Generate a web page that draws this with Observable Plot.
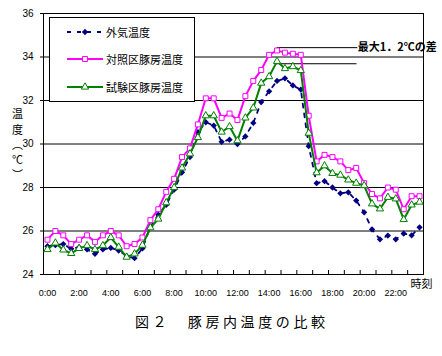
<!DOCTYPE html>
<html>
<head>
<meta charset="utf-8">
<script src="https://cdn.jsdelivr.net/npm/d3@7"></script>
<script src="https://cdn.jsdelivr.net/npm/@observablehq/plot@0.6"></script>
<style>
  body { margin: 0; background: #fff; }
  #wrap { position: relative; width: 442px; height: 356px; overflow: hidden; background: #fff; }
  #legend { position: absolute; left: 49px; top: 17px; width: 146px; height: 85px; box-sizing: border-box;
            border: 1px solid #000; background: #fff; }
  .lrow { position: absolute; left: 0; height: 16px; width: 144px; }
  .lrow svg { position: absolute; left: 17px; top: 2px; }
  .lrow span { position: absolute; left: 56px; top: 0; line-height: 16px; font-size: 11px;
               font-family: "Noto Sans CJK JP", sans-serif; color: #000; white-space: nowrap; }
  #caption { position: absolute; left: 135px; top: 313px; font-size: 14px; line-height: 16px;
             font-family: "Noto Sans CJK JP", sans-serif; letter-spacing: 3.6px; white-space: pre; color: #000; }
</style>
</head>
<body>
<div id="wrap"></div>
<script>
// ---- data ----
const times = ["0:00","0:30","1:00","1:30","2:00","2:30","3:00","3:30","4:00","4:30","5:00","5:30",
  "6:00","6:30","7:00","7:30","8:00","8:30","9:00","9:30","10:00","10:30","11:00","11:30",
  "12:00","12:30","13:00","13:30","14:00","14:30","15:00","15:30","16:00","16:30","17:00","17:30",
  "18:00","18:30","19:00","19:30","20:00","20:30","21:00","21:30","22:00","22:30","23:00","23:30"];
const outside = [25.3,25.35,25.4,25.18,25.25,25.15,24.95,25.15,25.22,25.1,
  24.85,24.75,25.2,26.2,26.75,27.2,27.9,28.7,29.4,30.55,
  31.0,30.85,30.1,30.2,30.0,30.35,30.97,31.93,32.42,32.9,
  33.02,32.69,32.5,29.9,28.2,28.29,28.0,27.73,27.78,27.4,
  26.86,26.07,25.62,25.79,25.62,25.88,25.8,26.17];
const control = [25.6,26.0,25.8,25.4,25.6,25.8,25.5,25.8,26.0,25.8,
  25.3,25.4,25.7,26.5,27.0,27.8,28.4,29.4,29.8,30.9,
  32.1,32.1,31.2,31.4,31.1,32.2,32.9,33.4,34.1,34.3,
  34.2,34.15,34.1,31.3,29.2,29.5,29.4,29.2,28.8,28.9,
  28.2,27.7,27.5,28.0,27.9,27.0,27.6,27.6];
const trial = [25.15,25.45,25.13,24.97,25.2,25.33,25.15,25.33,25.7,25.26,
  24.8,24.95,25.35,26.15,26.55,27.3,28.0,28.9,29.55,30.3,
  31.3,31.3,30.55,30.8,30.15,31.2,31.66,32.8,33.1,33.8,
  33.47,33.56,33.38,30.5,28.68,29.0,28.65,28.57,28.35,28.2,
  28.09,27.25,27.02,27.55,27.48,26.53,27.2,27.33];
const seriesNames = ["外気温度", "対照区豚房温度", "試験区豚房温度"];
const seriesColors = ["#000080", "#FF00FF", "#008000"];
const yTicks = [24, 26, 28, 30, 32, 34, 36];
const xTickLabels = ["0:00","2:00","4:00","6:00","8:00","10:00","12:00","14:00","16:00","18:00","20:00","22:00"];
const yTitle = "温\n度\n︵\n℃\n︶";
const xTitle = "時刻";
const caption = "図２　豚房内温度の比較";
const noteText = "最大1．2℃の差";
const noteY = [34.43, 33.69];
const noteX1 = [14.52, 14.4];
const noteX2 = [19.6, 19.55];

// ---- derived tables ----
const toHour = t => { const [h, m] = t.split(":"); return +h + (+m) / 60; };
const hours = times.map(toHour);
const rows = vals => hours.map((h, i) => ({h, v: vals[i]}));
const outRows = rows(outside), ctlRows = rows(control), triRows = rows(trial);
const labelHours = xTickLabels.map(toHour);
const labelMap = new Map(labelHours.map((h, i) => [h, xTickLabels[i]]));
const tickHours = hours.filter(h => Number.isInteger(h)).map(h => h - 0.25);
const noteRows = noteY.map((y, i) => ({y, x1: noteX1[i], x2: noteX2[i]}));
const CJK = "Noto Sans CJK JP";

const chart = Plot.plot({
  width: 442, height: 300,
  marginLeft: 43, marginRight: 19, marginTop: 13, marginBottom: 26,
  x: {domain: [-0.25, 23.75]},
  y: {domain: [24, 36]},
  style: {fontFamily: "'Liberation Sans', Arial, sans-serif", fontSize: "10px", color: "#000", background: "#fff", overflow: "visible"},
  marks: [
    Plot.gridY(yTicks.slice(1, -1), {stroke: "#000", strokeOpacity: 1}),
    Plot.frame({stroke: "#000"}),
    Plot.axisY(yTicks, {tickSize: 3, tickPadding: 7, label: null, fontSize: 10}),
    Plot.axisX(labelHours, {tickSize: 0, tickPadding: 15, label: null, fontSize: 9, tickFormat: d => labelMap.get(d)}),
    Plot.tickX(tickHours, {x: d => d, stroke: "#000", insetTop: 257}),
    Plot.ruleY(noteRows, {y: "y", x1: "x1", x2: "x2", stroke: "#000", strokeWidth: 1}),
    Plot.line(outRows, {x: "h", y: "v", stroke: seriesColors[0], strokeWidth: 1.8, strokeDasharray: "4,6"}),
    Plot.dot(outRows, {x: "h", y: "v", symbol: "square", rotate: 45, r: 2.5, fill: seriesColors[0], stroke: "none"}),
    Plot.line(ctlRows, {x: "h", y: "v", stroke: seriesColors[1], strokeWidth: 2}),
    Plot.dot(ctlRows, {x: "h", y: "v", symbol: "square", r: 2.8, fill: "#fff", stroke: seriesColors[1], strokeWidth: 1}),
    Plot.line(triRows, {x: "h", y: "v", stroke: seriesColors[2], strokeWidth: 2}),
    Plot.dot(triRows, {x: "h", y: "v", symbol: "triangle", r: 2.7, fill: "#fff", stroke: seriesColors[2], strokeWidth: 1}),
    Plot.text([{x: noteX2[0], y: noteY[0], t: noteText}], {x: "x", y: "y", text: "t", textAnchor: "start", fontWeight: "bold", fontSize: 11, fontFamily: CJK}),
    Plot.text([yTitle], {text: d => d, frameAnchor: "left", dx: -26, lineHeight: 1.39, fontSize: 11, fontFamily: CJK, textAnchor: "middle"}),
    Plot.text([xTitle], {text: d => d, frameAnchor: "bottom-right", dx: 9, dy: 13, textAnchor: "end", fontSize: 11, fontFamily: CJK})
  ]
});

const wrap = document.getElementById("wrap");
wrap.appendChild(chart);

// legend
const legend = document.createElement("div");
legend.id = "legend";
const rowCenters = [14, 41, 69];
seriesNames.forEach((name, i) => {
  const row = document.createElement("div");
  row.className = "lrow";
  row.style.top = (rowCenters[i] - 8) + "px";
  const svg = d3.create("svg").attr("width", 38).attr("height", 12);
  const line = svg.append("line").attr("x1", 0).attr("x2", 36).attr("y1", 6).attr("y2", 6)
    .attr("stroke", seriesColors[i]).attr("stroke-width", 2);
  if (i === 0) line.attr("stroke-dasharray", "4,6");
  const sym = [d3.symbolSquare, d3.symbolSquare, d3.symbolTriangle][i];
  const r = [2.5, 2.8, 2.7][i];
  const p = svg.append("path").attr("d", d3.symbol(sym, r * r * Math.PI)())
    .attr("transform", `translate(18,6)${i === 0 ? " rotate(45)" : ""}`);
  if (i === 0) p.attr("fill", seriesColors[0]);
  else p.attr("fill", "#fff").attr("stroke", seriesColors[i]).attr("stroke-width", 1);
  row.appendChild(svg.node());
  const sp = document.createElement("span");
  sp.textContent = name;
  row.appendChild(sp);
  legend.appendChild(row);
});
wrap.appendChild(legend);

const cap = document.createElement("div");
cap.id = "caption";
cap.textContent = caption;
wrap.appendChild(cap);
</script>
</body>
</html>
